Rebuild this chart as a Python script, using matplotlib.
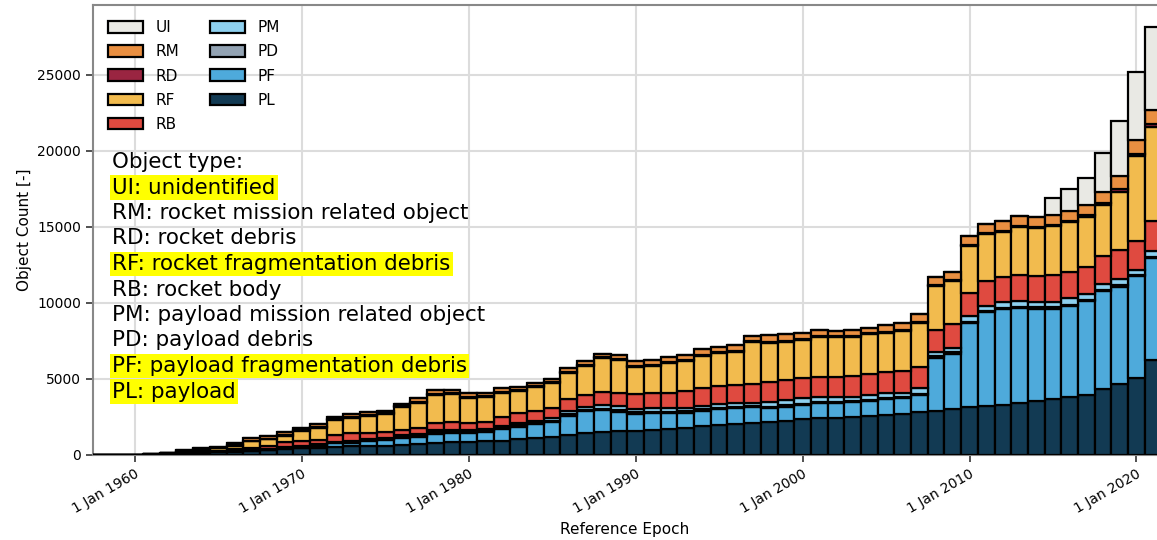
import matplotlib
matplotlib.use("Agg")
import matplotlib.pyplot as plt
import numpy as np

# yearly object counts per object class, epoch 1 Jan of each year
years = np.arange(1958, 2022)

PL = [3, 5, 15, 25, 50, 100, 140, 170, 220, 280,
      330, 420, 440, 460, 520, 560, 590, 610, 640, 710,
      810, 877, 877, 900, 943, 1031, 1096, 1206, 1316, 1426,
      1535, 1560, 1590, 1650, 1711, 1798, 1908, 1974, 2017, 2083,
      2149, 2259, 2390, 2456, 2456, 2522, 2588, 2654, 2697, 2807,
      2895, 3026, 3136, 3224, 3290, 3399, 3553, 3706, 3838, 3947,
      4330, 4649, 5087, 6250]
PF = [0, 0, 0, 0, 0, 0, 0, 0, 0, 0,
      0, 20, 40, 150, 240, 262, 320, 370, 460, 480,
      600, 540, 540, 620, 750, 840, 960, 970, 1280, 1469,
      1426, 1291, 1130, 1091, 1030, 987, 1009, 1030, 1053, 1053,
      921, 921, 900, 943, 943, 943, 965, 1030, 1053, 1140,
      3509, 3641, 5526, 6162, 6293, 6272, 6074, 5921, 5965, 6185,
      6450, 6426, 6689, 6688]
PD = [0, 0, 0, 0, 0, 0, 20, 20, 30, 40,
      50, 60, 70, 70] + [80] * 50
PM = [0, 0, 0, 0, 0, 0, 0, 0, 0, 0,
      10, 20, 20, 30, 40, 40, 50, 60, 136, 130,
      155, 148, 148, 110, 135, 132, 123, 156, 241, 205,
      249, 293, 250, 249, 249, 205, 227, 271, 249, 227,
      359, 358, 358, 359, 315, 293, 314, 293, 271, 359,
      314, 314, 425, 359, 381, 403, 381, 381, 424, 380,
      368, 402, 315, 403]
RB = [0, 5, 15, 25, 50, 80, 90, 100, 120, 150,
      200, 360, 350, 280, 436, 484, 430, 425, 329, 355,
      482, 548, 482, 483, 614, 658, 658, 702, 767, 767,
      877, 877, 963, 1009, 1009, 1140, 1184, 1163, 1185, 1251,
      1316, 1316, 1338, 1316, 1360, 1359, 1360, 1382, 1425, 1425,
      1426, 1557, 1513, 1622, 1645, 1688, 1688, 1754, 1754, 1799,
      1892, 1930, 1908, 1974]
RF = [0, 0, 0, 10, 30, 80, 130, 160, 240, 440,
      440, 390, 680, 810, 987, 1030, 1118, 1162, 1491, 1688,
      1820, 1820, 1645, 1601, 1535, 1491, 1579, 1601, 1689, 1908,
      2193, 2149, 1798, 1798, 1995, 1974, 2127, 2214, 2214, 2718,
      2565, 2522, 2500, 2587, 2587, 2588, 2632, 2609, 2632, 2895,
      2895, 2829, 3092, 3071, 3004, 3180, 3180, 3224, 3290, 3289,
      3327, 3838, 5592, 6207]
RD = [0, 0, 0, 0, 0, 0, 20, 20, 30, 40,
      50, 60, 60, 60, 50] + [60] * 44 + [80, 100, 150, 150, 150]
RM = [0, 0, 0, 0, 20, 60, 60, 80, 130, 146,
      170, 160, 140, 160, 125, 159, 159, 137, 174, 269,
      269, 203, 225, 247, 269, 204, 202, 203, 269, 269,
      203, 240, 289, 313, 335, 335, 379, 335, 379, 357,
      445, 445, 422, 423, 379, 379, 378, 445, 488, 488,
      554, 554, 576, 619, 642, 664, 664, 664, 642, 688,
      778, 880, 903, 946]
UI = [0] * 57 + [1140, 1425, 1798, 2521, 3641, 4493, 5482]

# stacking order, bottom first
series = [
    ("PL", PL, "#123a53"),
    ("PF", PF, "#4eaadb"),
    ("PD", PD, "#93a3b3"),
    ("PM", PM, "#8ed0ef"),
    ("RB", RB, "#df4a40"),
    ("RF", RF, "#f2bb4e"),
    ("RD", RD, "#9a2541"),
    ("RM", RM, "#e98f41"),
    ("UI", UI, "#e9e9e4"),
]

type_lines = [
    ("Object type:", False),
    ("UI: unidentified", True),
    ("RM: rocket mission related object", False),
    ("RD: rocket debris", False),
    ("RF: rocket fragmentation debris", True),
    ("RB: rocket body", False),
    ("PM: payload mission related object", False),
    ("PD: payload debris", False),
    ("PF: payload fragmentation debris", True),
    ("PL: payload", True),
]

tick_years = [1960, 1970, 1980, 1990, 2000, 2010, 2020]

fig = plt.figure(figsize=(11.57, 5.4), dpi=100)
ax = fig.add_axes([93 / 1157, 85 / 540, 1064 / 1157, 450 / 540])

bottom = np.zeros(len(years))
bars = {}
for name, vals, color in series:
    vals = np.array(vals, dtype=float)
    bars[name] = ax.bar(years, vals, width=1.0, bottom=bottom, color=color,
                        edgecolor="black", linewidth=1.6, label=name, zorder=3)
    bottom += vals

ax.set_xlim(1957.5, 2021.23)
ax.set_ylim(0, 29600)

ax.grid(True, color="#dcdcdc", linewidth=1.5, zorder=0)
ax.set_axisbelow(True)

for side in ["left", "bottom", "top"]:
    ax.spines[side].set_color("#888888")
    ax.spines[side].set_linewidth(1.5)
ax.spines["right"].set_visible(False)

ax.set_xticks(tick_years)
ax.set_xticklabels([f"1 Jan {y}" for y in tick_years], rotation=30,
                   ha="right", rotation_mode="anchor", fontsize=10)
ax.set_yticks([0, 5000, 10000, 15000, 20000, 25000])
ax.tick_params(axis="y", labelsize=10)
ax.tick_params(length=5, width=1.2, color="#333333")

ax.set_ylabel("Object Count [-]", fontsize=11)
ax.set_xlabel("Reference Epoch", fontsize=11)

order = ["UI", "RM", "RD", "RF", "RB", "PM", "PD", "PF", "PL"]
ax.legend([bars[k] for k in order], order, ncol=2, loc="upper left",
          frameon=False, fontsize=11, handlelength=2.3, handleheight=0.8,
          columnspacing=2.0, labelspacing=0.6, borderaxespad=0.6)

# object type explanation text
y0 = (455 - 162) / 450
step = 25.5 / 450
for i, (line, highlight) in enumerate(type_lines):
    kw = {}
    if highlight:
        kw["bbox"] = dict(facecolor="#ffff00", edgecolor="none", pad=1.5)
    ax.text(0.018, y0 - i * step, line, transform=ax.transAxes,
            fontsize=15.4, va="center", ha="left", zorder=5, **kw)

fig.savefig("out.png", dpi=100)
